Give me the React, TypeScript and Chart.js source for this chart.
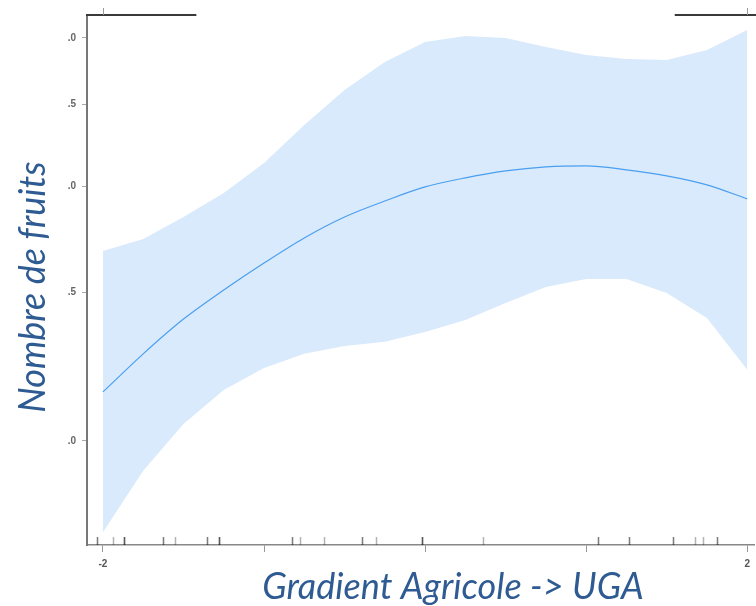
import React, { useEffect, useRef } from "react";
import { Chart, registerables } from "chart.js";

Chart.register(...registerables);

// Covariate positions (x) along the agricultural gradient
const xs = [-2, -1.75, -1.5, -1.25, -1, -0.75, -0.5, -0.25, 0, 0.25, 0.5, 0.75, 1, 1.25, 1.5, 1.75, 2];
// Fitted smooth (number of fruits, log scale)
const fit = [1.143, 1.268, 1.394, 1.509, 1.624, 1.739, 1.841, 1.923, 1.998, 2.048, 2.087, 2.11, 2.116, 2.093, 2.059, 2.009, 1.934];
// Confidence band
const upper = [1.678, 1.734, 1.841, 1.965, 2.133, 2.365, 2.602, 2.809, 2.966, 3.015, 2.998, 2.926, 2.863, 2.831, 2.824, 2.902, 3.065];
const lower = [0.78, 0.922, 1.047, 1.149, 1.22, 1.268, 1.295, 1.31, 1.346, 1.39, 1.456, 1.521, 1.555, 1.555, 1.497, 1.398, 1.214];
// Rug of observations (repeated values = overlapping marks)
const rug = [
  -2.04, -2.04, -1.938, -1.867, -1.867, -1.867, -1.628, -1.628, -1.554, -1.356, -1.356,
  -1.282, -1.282, -1.282, -0.824, -0.824, -0.777, -0.625, -0.39, -0.39, -0.303,
  -0.02, -0.02, -0.02, 0.361, 1.071, 1.071, 1.267, 1.267, 1.542, 1.542, 1.676, 1.728,
  1.814, 1.814,
];
// Axis ticks
const xTickValues = [-2, -1, 0, 1, 2];
const xTickLabels = ["-2", "", "", "", "2"];
const yTickValues = [1, 1.5, 2, 2.5, 3];
const yTickLabels = [".0", ".5", ".0", ".5", ".0"];
// Visible top frame pieces (x ranges) and top ticks
const topFrame = [
  [-2.2, -1.42],
  [1.55, 2.2],
];
const topTicks = [-2, 2];
const xTitle = "Gradient Agricole -> UGA";
const yTitle = "Nombre de fruits";

const pts = (ys: number[]) => xs.map((x, i) => ({ x, y: ys[i] }));

export default function App() {
  const ref = useRef<HTMLCanvasElement | null>(null);

  useEffect(() => {
    if (!ref.current) return;
    const bandColor = "rgba(217,234,252,1)";
    const decor = {
      id: "decor",
      afterDatasetsDraw(chart: any) {
        const { ctx, chartArea, scales } = chart;
        const xS = scales.x;
        ctx.save();
        // rug
        ctx.strokeStyle = "rgba(0,0,0,0.3)";
        ctx.lineWidth = 1.5;
        rug.forEach((v) => {
          const px = Math.round(xS.getPixelForValue(v)) + 0.5;
          ctx.beginPath();
          ctx.moveTo(px, chartArea.bottom - 8);
          ctx.lineTo(px, chartArea.bottom);
          ctx.stroke();
        });
        // top frame
        ctx.strokeStyle = "#3a3a3a";
        ctx.lineWidth = 2;
        topFrame.forEach(([a, b]) => {
          const pa = Math.max(chartArea.left - 1, xS.getPixelForValue(a));
          const pb = Math.min(chart.width, xS.getPixelForValue(b));
          ctx.beginPath();
          ctx.moveTo(pa, chartArea.top);
          ctx.lineTo(pb, chartArea.top);
          ctx.stroke();
        });
        ctx.strokeStyle = "#999";
        ctx.lineWidth = 1;
        topTicks.forEach((v) => {
          const px = Math.round(xS.getPixelForValue(v)) + 0.5;
          ctx.beginPath();
          ctx.moveTo(px, chartArea.top - 7);
          ctx.lineTo(px, chartArea.top);
          ctx.stroke();
        });
        ctx.restore();
      },
      afterDraw(chart: any) {
        const { ctx } = chart;
        ctx.save();
        ctx.fillStyle = "#2f5b93";
        ctx.font = "italic 36px Lato, 'Open Sans', sans-serif";
        ctx.textAlign = "center";
        ctx.textBaseline = "middle";
        ctx.fillText(xTitle, 453, 587);
        ctx.translate(33, 287);
        ctx.rotate(-Math.PI / 2);
        ctx.fillText(yTitle, 0, 0);
        ctx.restore();
      },
    };

    const chart = new Chart(ref.current, {
      type: "line",
      data: {
        datasets: [
          {
            label: "upper",
            data: pts(upper),
            borderWidth: 0,
            pointRadius: 0,
            tension: 0,
            fill: "+1",
            order: 2,
            backgroundColor: bandColor,
            borderColor: bandColor,
          },
          {
            label: "lower",
            data: pts(lower),
            borderWidth: 0,
            pointRadius: 0,
            tension: 0,
            fill: false,
            order: 2,
            borderColor: bandColor,
          },
          {
            label: "fit",
            data: pts(fit),
            borderWidth: 1.2,
            pointRadius: 0,
            cubicInterpolationMode: "monotone",
            fill: false,
            order: 0,
            borderColor: "#4a9ff0",
          },
        ],
      },
      options: {
        animation: false,
        responsive: false,
        layout: { padding: { left: 0, right: 0, top: 15, bottom: 0 } },
        plugins: { legend: { display: false }, tooltip: { enabled: false } },
        scales: {
          x: {
            type: "linear",
            min: -2.099,
            max: 2.0433,
            afterBuildTicks: (s: any) => {
              s.ticks = xTickValues.map((value) => ({ value }));
            },
            afterFit: (s: any) => {
              s.height = 61;
            },
            ticks: {
              autoSkip: false,
              maxRotation: 0,
              padding: 6,
              color: "#555",
              font: { family: "'Liberation Sans', Arial, sans-serif", size: 10, weight: "bold" },
              callback: (v: any) => {
                const i = xTickValues.indexOf(Number(v));
                return i >= 0 ? xTickLabels[i] : "";
              },
            },
            grid: { display: true, drawOnChartArea: false, drawTicks: true, tickLength: 7, color: "#999" },
            border: { display: true, color: "#888", width: 1.5 },
          },
          y: {
            type: "logarithmic",
            min: 0.7532,
            max: 3.192,
            afterBuildTicks: (s: any) => {
              s.ticks = yTickValues.map((value) => ({ value }));
            },
            afterFit: (s: any) => {
              s.width = 87;
            },
            ticks: {
              autoSkip: false,
              padding: 6,
              color: "#666",
              font: { family: "'Liberation Sans', Arial, sans-serif", size: 10, weight: "bold" },
              callback: (v: any) => {
                const i = yTickValues.findIndex((t) => Math.abs(t - Number(v)) < 1e-6);
                return i >= 0 ? yTickLabels[i] : "";
              },
            },
            grid: { display: true, drawOnChartArea: false, drawTicks: true, tickLength: 5, color: "#aaa" },
            border: { display: true, color: "#777", width: 2 },
          },
        },
      },
      plugins: [decor],
    } as any);
    return () => chart.destroy();
  }, []);

  return (
    <div style={{ position: "absolute", left: 0, top: 0, width: 756, height: 606, background: "#fff" }}>
      <canvas ref={ref} width={756} height={606} style={{ display: "block" }} />
    </div>
  );
}
